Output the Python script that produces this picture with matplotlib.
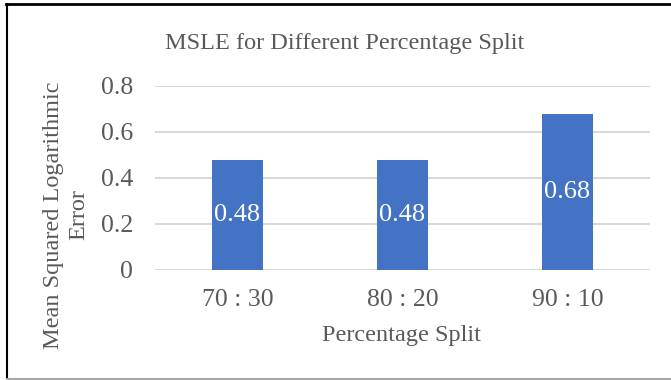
import matplotlib
matplotlib.use("Agg")
import matplotlib.pyplot as plt
from matplotlib.lines import Line2D

categories = ["70 : 30", "80 : 20", "90 : 10"]
msle = [0.48, 0.48, 0.68]
yticks = [0, 0.2, 0.4, 0.6, 0.8]
ytick_labels = ["0", "0.2", "0.4", "0.6", "0.8"]

plt.rcParams['font.family'] = ['Liberation Serif', 'DejaVu Serif']
txt = '#595959'

W, H = 671, 380
fig = plt.figure(figsize=(W/100, H/100), dpi=100)
ax = fig.add_axes([155/W, 1-270/H, (650-155)/W, (270-86)/H])

x = range(len(categories))
bars = ax.bar(x, msle, width=0.315, color='#4472C4', zorder=3)
for b, v in zip(bars, msle):
    ax.text(b.get_x()+b.get_width()/2, v/2, f"{v:.2f}", ha='center', va='center',
            color='white', fontsize=19, zorder=4)

ax.set_xlim(-0.5, 2.5)
ax.set_ylim(0, 0.8)
ax.set_yticks(yticks)
ax.set_yticklabels(ytick_labels)
ax.set_xticks(list(x))
ax.set_xticklabels(categories)
ax.tick_params(axis='both', length=0, labelsize=18.5, colors=txt)
ax.tick_params(axis='y', pad=16)
ax.tick_params(axis='x', pad=14)
ax.yaxis.grid(True, color='#D9D9D9', linewidth=1.5, zorder=0)
for s in ax.spines.values():
    s.set_visible(False)

fig.text(345/W, 1-43/H, "MSLE for Different Percentage Split", ha='center', va='center',
         fontsize=17.5, color=txt)
fig.text(402/W, 1-335/H, "Percentage Split", ha='center', va='center',
         fontsize=17.5, color=txt)
fig.text(66/W, 1-215/H, "Mean Squared Logarithmic\nError", ha='center', va='center',
         rotation=90, fontsize=17.5, color=txt, linespacing=1.25)

fig.add_artist(Line2D([6/W, 1], [1-4/H, 1-4/H], color='black', lw=2, transform=fig.transFigure))
fig.add_artist(Line2D([7/W, 7/W], [0, 1-4/H], color='black', lw=1.5, transform=fig.transFigure))
fig.add_artist(Line2D([7/W, 1], [1/H, 1/H], color='#A6A6A6', lw=1.5, transform=fig.transFigure))

fig.savefig("out.png", dpi=100)
